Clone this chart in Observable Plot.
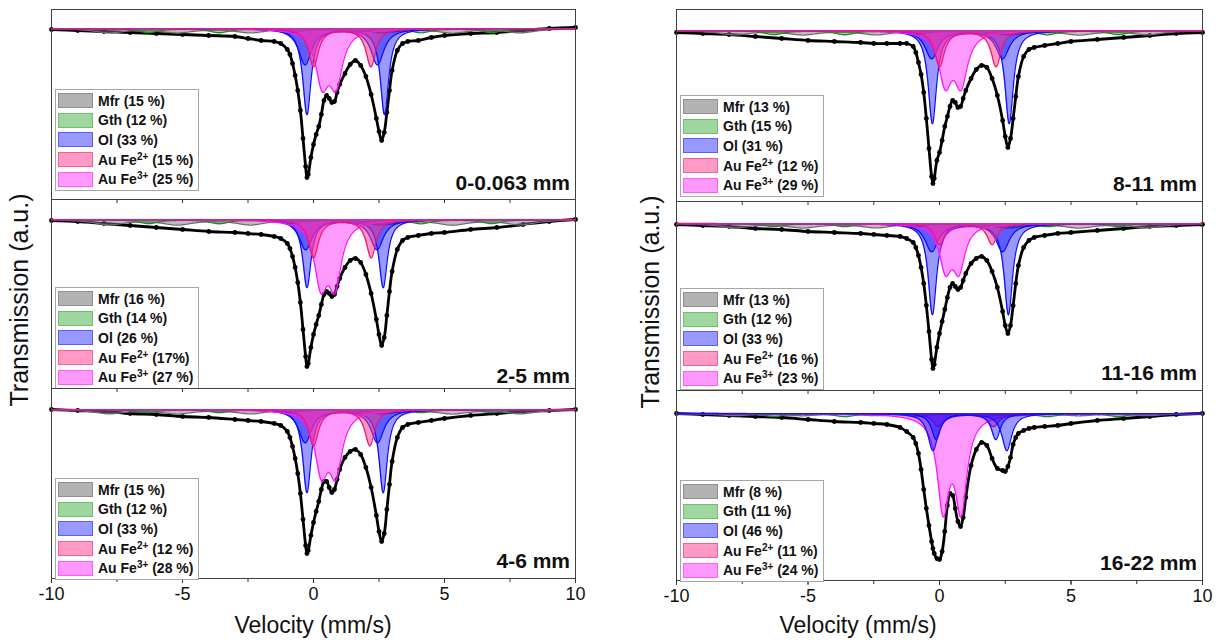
<!DOCTYPE html>
<html><head><meta charset="utf-8">
<script src="https://cdn.jsdelivr.net/npm/d3@7"></script>
<script src="https://cdn.jsdelivr.net/npm/@observablehq/plot@0.6"></script>
<style>
body{margin:0;background:#fff;font-family:"Liberation Sans",Arial,sans-serif;}
#root{position:relative;width:1220px;height:644px;overflow:hidden;background:#fff;}
.panel{position:absolute;}
.legend{position:absolute;border:1px solid #a6a6a6;background:#fff;padding:1px 5px 1px 2px;box-sizing:border-box;}
.row{display:flex;align-items:center;height:19.6px;font-weight:bold;font-size:14px;color:#111;white-space:nowrap;}
.row sup{font-size:10px;line-height:0;vertical-align:5px;}
.sw{display:inline-block;width:35px;height:15px;border:1.5px solid;margin-right:5px;box-sizing:border-box;}
.plabel{position:absolute;font-weight:bold;font-size:21px;transform:translate(-100%,-50%);white-space:nowrap;color:#111;}
.atitle{position:absolute;font-size:23px;white-space:nowrap;transform:translate(-50%,-50%);color:#111;}
.ytitle{position:absolute;font-size:25px;white-space:nowrap;transform:translate(-50%,-50%) rotate(-90deg);color:#111;}
</style></head><body><div id="root"></div>
<script>
// ---------- DATA ----------
const samples = ["0-0.063 mm","2-5 mm","4-6 mm","8-11 mm","11-16 mm","16-22 mm"];
const velocity = [-10,-9,-8,-7,-6,-5,-4,-3,-2.5,-2,-1.5,-1.25,-1,-0.9,-0.8,-0.7,-0.6,-0.5,-0.4,-0.3,-0.25,-0.2,-0.1,0,0.1,0.2,0.3,0.4,0.5,0.6,0.7,0.8,0.9,1.0,1.2,1.4,1.6,1.8,2.0,2.2,2.4,2.5,2.6,2.7,2.8,2.9,3.0,3.2,3.4,3.6,4,4.5,5,6,7,8,9,10];
// measured absorption (a.u., below baseline) at each velocity
const absorb_0_0063 = [1,2,3,4,5,6,7,8,10,12,13,15,21,26,35,47,62,82,110,138,149,146,129,116,106,98,86,72,67,70,74,73,64,56,45,36,32,37,48,66,90,103,112,104,84,62,42,22,15,13,12,9,7,5,4,2,0,-1];
const absorb_2_5 = [1,2,4,6,8,10,12,13,14,15,17,19,24,29,37,48,63,83,110,137,147,144,128,115,105,96,85,75,72,74,77,75,67,59,48,41,39,43,55,74,100,115,126,118,96,72,52,30,21,18,16,14,13,10,8,5,2,0];
const absorb_4_6 = [0,1,2,4,5,7,8,10,11,12,14,16,22,28,37,49,64,84,110,136,144,141,126,113,102,92,80,72,72,78,83,80,70,60,48,42,40,45,58,78,106,122,132,124,100,75,52,28,18,15,13,11,9,6,4,2,1,0];
const absorb_8_11 = [2,3,4,6,8,10,11,12,13,13,13,13,16,22,32,44,62,88,118,146,153,148,130,122,110,96,86,76,70,72,77,76,68,60,48,39,35,37,48,65,90,106,117,108,88,66,46,26,19,17,15,13,11,9,7,5,3,2];
const absorb_11_16 = [1,2,3,5,6,8,9,10,11,12,13,15,19,24,32,44,60,82,108,136,145,141,124,110,98,86,74,64,60,63,66,64,57,50,40,35,33,37,48,64,88,102,110,102,82,60,42,24,17,14,12,10,9,7,5,3,2,1];
const absorb_16_22 = [0,1,2,3,4,6,8,9,10,11,14,18,24,30,40,56,76,95,112,128,135,140,145,146,138,118,92,80,82,95,108,113,104,84,52,36,29,32,45,55,57,58,53,44,31,24,20,17,15,14,13,12,10,7,5,3,1,0];

// fitted sub-spectra (Lorentzian lines)
const mfrPos = [-7.8,-5.2,-2.4,2.6,5.3,7.9];      // Mfr sextet line positions
const mfrDepth = [4,5,4,4,4,2];                    // per sample
const mfrWidth = 1.4;
const gthPos = [-6.3,-3.6,-0.9,1.6,4.1,6.8];      // Gth sextet line positions
const gthDepth = [4,4,3,4,3,3];
const gthWidth = 0.9;
// doublets: [line 1, line 2, FWHM, depth] per sample
const olA = [[-0.25,2.71,0.38,86],[-0.25,2.66,0.38,68],[-0.25,2.66,0.38,83],[-0.27,2.65,0.38,93],[-0.27,2.62,0.38,91],[-0.25,2.56,0.45,37]];
const olB = [[-0.32,2.44,0.6,36],[-0.3,2.42,0.6,30],[-0.32,2.44,0.6,33],[-0.3,2.4,0.6,28],[-0.3,2.4,0.6,28],[-0.13,2.14,0.4,26]];
const fe2 = [[0.0,2.19,0.45,38],[0.0,2.2,0.45,38],[0.0,2.15,0.45,36],[0.0,2.15,0.45,36],[0.0,2.0,0.45,21],[-0.05,2.05,0.5,13]];
const fe3 = [[0.33,0.86,0.6,51],[0.28,0.82,0.6,60],[0.3,0.85,0.6,58],[0.22,0.82,0.6,50],[0.23,0.74,0.55,43],[0.14,0.82,0.54,91]];

// legend texts
const pctMfr = ["15 %","16 %","15 %","13 %","13 %","8 %"];
const pctGth = ["12 %","14 %","12 %","15 %","12 %","11 %"];
const pctOl  = ["33 %","26 %","33 %","31 %","33 %","46 %"];
const pctFe2 = ["15 %","17%","12 %","12 %","16 %","11 %"];
const pctFe3 = ["25 %","27 %","28 %","29 %","23 %","24 %"];
const majorTicks = [-10,-5,0,5,10];
const allTicks = [-10,-7.5,-5,-2.5,0,2.5,5,7.5,10];

// ---------- LAYOUT / STYLE ----------
const absorbAll = [absorb_0_0063,absorb_2_5,absorb_4_6,absorb_8_11,absorb_11_16,absorb_16_22];
const frames = [
  {x0:51,x1:575,y0:9,y1:199,base:19,bottom:false,legTop:89,labY:183},
  {x0:51,x1:575,y0:199,y1:388,base:20,bottom:false,legTop:287,labY:376},
  {x0:51,x1:575,y0:388,y1:578,base:21,bottom:true,legTop:478,labY:561},
  {x0:676,x1:1202,y0:9,y1:201,base:21,bottom:false,legTop:95,labY:184},
  {x0:676,x1:1202,y0:201,y1:390,base:22,bottom:false,legTop:288,labY:373},
  {x0:676,x1:1202,y0:390,y1:580,base:23,bottom:true,legTop:480,labY:563}
];
const style = {
  Mfr:{fill:"#7a7a7a",op:0.5,stroke:"#6e6e6e",sw:"#b3b3b3",sb:"#8f8f8f"},
  Gth:{fill:"#2ca02c",op:0.45,stroke:"#1e8c1e",sw:"#a0d6a0",sb:"#6fbf6f"},
  Ol:{fill:"#0000ff",op:0.4,stroke:"#1010ff",sw:"#9999ff",sb:"#5c5cff"},
  Fe2:{fill:"#ff3389",op:0.5,stroke:"#f0157a",sw:"#ff99c6",sb:"#f2609f"},
  Fe3:{fill:"#ff22ff",op:0.45,stroke:"#ff14ff",sw:"#ff99ff",sb:"#ff5cff"}
};

function lor(lines, v){let s=0;for(const [c,w,d] of lines){const h=w/2;s+=d/(1+((v-c)/h)**2);}return s;}
const grid = d3.range(-10,10.0001,0.02);
function profile(lines){return grid.map(v=>({v,a:lor(lines,v)}));}
function doublet(p){return [[p[0],p[2],p[3]],[p[1],p[2],p[3]]];}
function compMarks(lines, st){
  const pr = profile(lines);
  return [
    Plot.areaY(pr,{x:"v",y1:0,y2:d=>-d.a,fill:st.fill,fillOpacity:st.op}),
    Plot.line(pr,{x:"v",y:d=>-d.a,stroke:st.stroke,strokeWidth:1.3})
  ];
}

const root = document.getElementById("root");
frames.forEach((f,i)=>{
  const H = f.y1-f.y0, W = f.x1-f.x0;
  const extra = f.bottom ? 34 : 6;
  const data = velocity.map((v,j)=>({v,a:absorbAll[i][j]}));
  const mfrLines = mfrPos.map(c=>[c,mfrWidth,mfrDepth[i]]);
  const gthLines = gthPos.map(c=>[c,gthWidth,gthDepth[i]]);
  const comps = {
    Mfr:compMarks(mfrLines,style.Mfr),
    Gth:compMarks(gthLines,style.Gth),
    OlB:compMarks(doublet(olB[i]),style.Ol),
    OlA:compMarks(doublet(olA[i]),style.Ol),
    Fe3:compMarks(doublet(fe3[i]),style.Fe3),
    Fe2:compMarks(doublet(fe2[i]),style.Fe2)
  };
  const order = i===5 ? ["Mfr","Gth","Fe2","Fe3","OlB","OlA"] : ["Mfr","Gth","OlB","OlA","Fe3","Fe2"];
  const marks = [
    Plot.line(data,{x:"v",y:d=>-d.a,stroke:"#000",strokeWidth:2.8,curve:"catmull-rom"}),
    Plot.dot(data,{x:"v",y:d=>-d.a,r:2.4,fill:"#000"}),
    ...order.flatMap(k=>comps[k]),
    Plot.frame({stroke:"#404040"}),
    Plot.axisX(allTicks,{tickSize:4,tickFormat:()=>"",label:null,stroke:"#333"})
  ];
  if(f.bottom) marks.push(Plot.axisX(majorTicks,{tickSize:5,tickPadding:4,tickFormat:d=>String(d),label:null,stroke:"#333",fill:"#111"}));
  const svg = Plot.plot({
    width:W+2, height:H+2+extra,
    marginLeft:1, marginRight:1, marginTop:1, marginBottom:1+extra,
    x:{domain:[-10,10],label:null},
    y:{domain:[-(H-f.base),f.base],axis:null},
    style:{background:"transparent",overflow:"visible",fontFamily:"Liberation Sans, Arial, sans-serif",fontSize:"18px",color:"#111"},
    marks
  });
  svg.classList.add("panel");
  svg.style.left=(f.x0-1)+"px"; svg.style.top=(f.y0-1)+"px";
  root.appendChild(svg);

  // legend
  const leg = document.createElement("div");
  leg.className="legend";
  leg.style.left=(f.x0+4)+"px"; leg.style.top=f.legTop+"px";
  const rows = [
    ["Mfr ("+pctMfr[i]+")",style.Mfr],
    ["Gth ("+pctGth[i]+")",style.Gth],
    ["Ol ("+pctOl[i]+")",style.Ol],
    ["Au Fe<sup>2+</sup> ("+pctFe2[i]+")",style.Fe2],
    ["Au Fe<sup>3+</sup> ("+pctFe3[i]+")",style.Fe3]
  ];
  leg.innerHTML = rows.map(([t,s])=>`<div class="row"><span class="sw" style="background:${s.sw};border-color:${s.sb}"></span><span>${t}</span></div>`).join("");
  root.appendChild(leg);

  const lab = document.createElement("div");
  lab.className="plabel"; lab.textContent=samples[i];
  lab.style.left=(f.x1-5)+"px"; lab.style.top=f.labY+"px";
  root.appendChild(lab);
});

function title(cls, text, x, y){const d=document.createElement("div");d.className=cls;d.textContent=text;d.style.left=x+"px";d.style.top=y+"px";root.appendChild(d);}
title("atitle","Velocity (mm/s)",313,625);
title("atitle","Velocity (mm/s)",858,625);
title("ytitle","Transmission (a.u.)",19,300);
title("ytitle","Transmission (a.u.)",650,302);
</script></body></html>
